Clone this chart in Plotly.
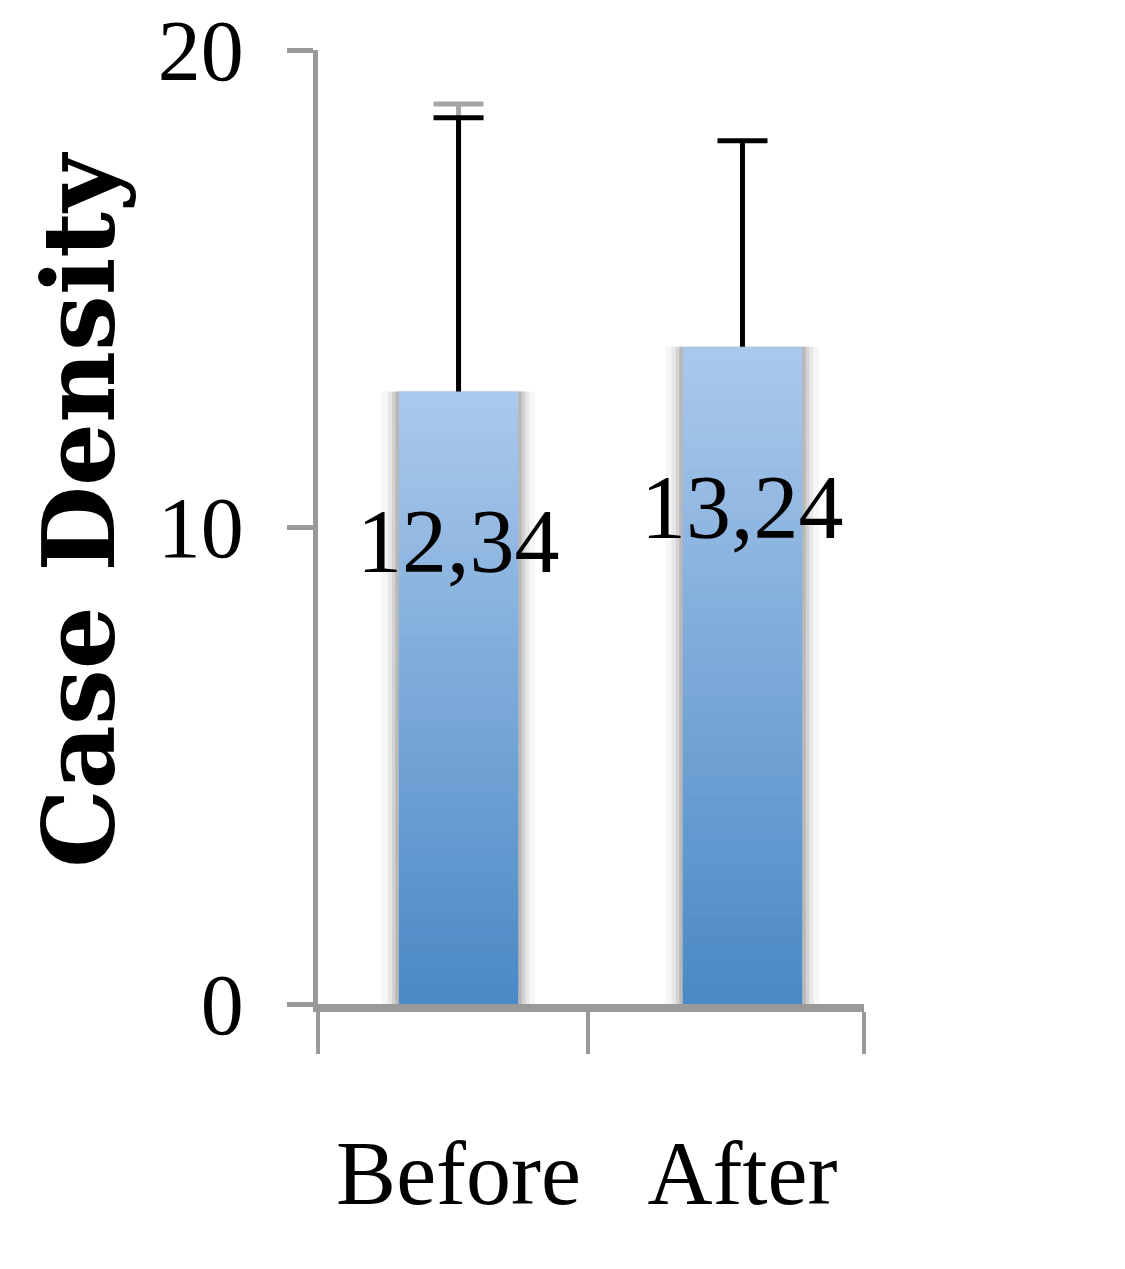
import plotly.graph_objects as go
import numpy as np

# ---- data ----
categories = ["Before", "After"]
bar_values = [12.84, 13.78]          # bar heights as drawn
bar_labels = ["12,34", "13,24"]      # printed value labels
error_top = [18.58, 18.10]           # top of the black error bars
ghost_top = [18.87, None]            # faint grey duplicate cap seen above "Before"
y_ticks = [0, 10, 20]

# ---- style / layout constants ----
top_rgb = np.array([171, 201, 235])
bot_rgb = np.array([74, 136, 198])
N_SEG = 60
BAR_W = 0.42
AXIS_GREY = "#999999"
SERIF = "Liberation Serif"
X_RANGE = [-0.495, 1.428]                 # visible x extent (category index units)
X_BOUNDARY_TICKS = [-0.495, 0.456, 1.428]  # grey boundary tick marks under the axis

xpos = list(range(len(categories)))
vals = np.array(bar_values, dtype=float)
fig = go.Figure()

# error bars are attached to transparent bars drawn first, so that the
# gradient bars drawn later hide their lower ends (upper whisker only)
ghost_y = [v if g is not None else None for g, v in zip(ghost_top, vals)]
ghost_plus = [(g - v) if g is not None else 0 for g, v in zip(ghost_top, vals)]
fig.add_trace(go.Bar(
    x=xpos, y=ghost_y, base=0, width=BAR_W,
    marker=dict(color="rgba(0,0,0,0)", line=dict(width=0)),
    error_y=dict(type="data", symmetric=False, array=ghost_plus,
                 arrayminus=list(vals), color="#a6a6a6", thickness=5, width=25),
    hoverinfo="skip", showlegend=False))

err_plus = [e - v for e, v in zip(error_top, vals)]
fig.add_trace(go.Bar(
    x=xpos, y=vals, base=0, width=BAR_W,
    marker=dict(color="rgba(0,0,0,0)", line=dict(width=0)),
    error_y=dict(type="data", symmetric=False, array=err_plus,
                 arrayminus=list(vals), color="black", thickness=5, width=25),
    hoverinfo="skip", showlegend=False))

# soft shadow behind the bars
for w, a in [(0.54, 0.035), (0.50, 0.06), (0.47, 0.09), (0.445, 0.12)]:
    fig.add_trace(go.Bar(
        x=xpos, y=vals, width=w, base=0,
        marker=dict(color=f"rgba(0,0,0,{a})", line=dict(width=0)),
        hoverinfo="skip", showlegend=False))

# vertical gradient built from stacked, slightly overlapping slices
for i in range(N_SEG):
    f = (i + 0.5) / N_SEG
    rgb = (bot_rgb + (top_rgb - bot_rgb) * f).round().astype(int)
    k = 1.6 if i < N_SEG - 1 else 1.0
    fig.add_trace(go.Bar(
        x=xpos, y=vals / N_SEG * k, base=vals * i / N_SEG, width=BAR_W,
        marker=dict(color=f"rgb({rgb[0]},{rgb[1]},{rgb[2]})", line=dict(width=0)),
        hoverinfo="skip", showlegend=False))

# value labels inside the bars
for xp, v, t in zip(xpos, vals, bar_labels):
    fig.add_annotation(x=xp, y=v * 0.755, xref="x", yref="y", text=t,
                       showarrow=False,
                       font=dict(family=SERIF, size=90, color="black"))

# rotated y-axis title
fig.add_annotation(text="<b>Case Density</b>", textangle=-90,
                   xref="paper", yref="paper", x=0, y=0.5,
                   xanchor="center", yanchor="middle",
                   xshift=-239, yshift=17, showarrow=False,
                   font=dict(family="DejaVu Serif", size=99, color="black"))

fig.update_layout(
    width=1125, height=1269,
    margin=dict(l=310, r=269, t=42, b=273),
    paper_bgcolor="white", plot_bgcolor="white",
    barmode="overlay",
    showlegend=False,
    xaxis=dict(
        range=X_RANGE, automargin=False,
        tickvals=xpos, ticktext=categories,
        showline=True, linecolor=AXIS_GREY, linewidth=8,
        ticks="outside", ticklen=42, tickwidth=1,
        tickcolor="rgba(0,0,0,0)", showgrid=False, zeroline=False,
        tickfont=dict(family=SERIF, size=90, color="black"),
        ticklabelstandoff=42,
        minor=dict(tickvals=X_BOUNDARY_TICKS, ticks="outside", ticklen=42,
                   tickwidth=4, tickcolor=AXIS_GREY, showgrid=False),
    ),
    yaxis=dict(
        range=[0, 20], tickvals=y_ticks, automargin=False,
        showline=True, linecolor=AXIS_GREY, linewidth=5,
        ticks="outside", ticklen=26, tickwidth=5, tickcolor=AXIS_GREY,
        showgrid=False, zeroline=False,
        tickfont=dict(family=SERIF, size=86, color="black"),
        ticklabelstandoff=26, ticklabeloverflow="allow",
    ),
)

fig.write_html("out.html")
